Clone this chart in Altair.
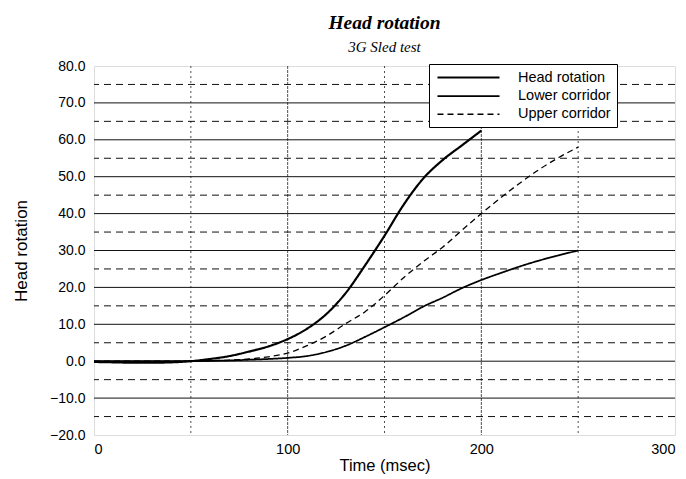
import altair as alt
import pandas as pd

# ---- data ----
t_head = [0, 10, 20, 30, 40, 50, 60, 70, 80, 90, 100, 110, 120, 130, 140, 150,
          160, 170, 180, 190, 200]
head = [-0.2, -0.3, -0.4, -0.4, -0.3, 0.0, 0.6, 1.4, 2.6, 4.0, 6.0, 8.8, 12.8,
        18.5, 26.0, 34.0, 42.5, 49.5, 54.5, 58.5, 62.5]

t_corr = [0, 10, 20, 30, 40, 50, 60, 70, 80, 90, 100, 110, 120, 130, 140, 150,
          160, 170, 180, 190, 200, 210, 220, 230, 240, 250]
lower = [0, 0, 0, 0, 0, 0, 0.1, 0.2, 0.4, 0.6, 0.9, 1.4, 2.5, 4.2, 6.6, 9.2,
         11.9, 14.8, 17.2, 19.8, 22.0, 23.9, 25.7, 27.3, 28.7, 30.0]
upper = [0, 0, 0, 0, 0, 0, 0.1, 0.3, 0.6, 1.2, 2.2, 4.2, 6.8, 10.2, 13.4, 17.8,
         22.7, 27.0, 30.9, 35.5, 40.0, 44.3, 48.3, 52.0, 55.2, 58.0]

series_names = ["Head rotation", "Lower corridor", "Upper corridor"]

x_ticks = [0, 100, 200, 300]
y_ticks = [-20, -10, 0, 10, 20, 30, 40, 50, 60, 70, 80]
vgrid_solid = [100, 200]
vgrid_dot = [50, 150, 250]
hgrid_solid = [-10, 0, 10, 20, 30, 40, 50, 60, 70]
hgrid_dash = [-15, -5, 5, 15, 25, 35, 45, 55, 65, 75]

rows = []
for t, v in zip(t_head, head):
    rows.append({"t": t, "v": v, "series": series_names[0]})
for t, v in zip(t_corr, lower):
    rows.append({"t": t, "v": v, "series": series_names[1]})
for t, v in zip(t_corr, upper):
    rows.append({"t": t, "v": v, "series": series_names[2]})
df = pd.DataFrame(rows)

xscale = alt.Scale(domain=[0, 300], nice=False)
yscale = alt.Scale(domain=[-20, 80], nice=False)

FONT = "Liberation Sans"

x_axis = alt.Axis(values=x_ticks, title="Time (msec)", grid=False,
                  ticks=False, domain=False, labelFont=FONT,
                  labelFontSize=14.5, labelColor="black",
                  labelPadding=7, labelOverlap=False,
                  titleFont=FONT, titleFontSize=16.5,
                  titleFontWeight="normal", titleColor="black",
                  titlePadding=2)
y_axis = alt.Axis(values=y_ticks, format=".1f", title="Head rotation",
                  grid=False, ticks=False, domain=False,
                  labelFont=FONT, labelFontSize=14,
                  labelColor="black", labelPadding=9,
                  labelOverlap=False,
                  titleFont=FONT, titleFontSize=17,
                  titleFontWeight="normal", titleColor="black",
                  titlePadding=19)

vs = alt.Chart(pd.DataFrame({"t": vgrid_solid})).mark_rule(
    color="#222", strokeWidth=0.8, strokeDash=[3, 1]
).encode(x=alt.X("t:Q", scale=xscale, axis=x_axis))
vd = alt.Chart(pd.DataFrame({"t": vgrid_dot})).mark_rule(
    color="#222", strokeWidth=0.8, strokeDash=[2, 3]
).encode(x=alt.X("t:Q", scale=xscale, axis=x_axis))
hs = alt.Chart(pd.DataFrame({"v": hgrid_solid})).mark_rule(
    color="#111", strokeWidth=1
).encode(y=alt.Y("v:Q", scale=yscale, axis=y_axis))
hd = alt.Chart(pd.DataFrame({"v": hgrid_dash})).mark_rule(
    color="#111", strokeWidth=1, strokeDash=[7, 5]
).encode(y=alt.Y("v:Q", scale=yscale, axis=y_axis))

legend = alt.Legend(
    title=None,
    orient="none",
    legendX=335,
    legendY=-2,
    fillColor="white",
    strokeColor="black",
    padding=6,
    symbolType="M-5,0H5",
    symbolSize=154,
    symbolStrokeColor="black",
    symbolOffset=26,
    labelOffset=42,
    labelFont=FONT,
    labelFontSize=14.5,
    labelColor="black",
    rowPadding=3.5,
)

lines = alt.Chart(df).mark_line(interpolate="monotone").encode(
    x=alt.X("t:Q", scale=xscale, axis=x_axis),
    y=alt.Y("v:Q", scale=yscale, axis=y_axis),
    color=alt.Color("series:N", scale=alt.Scale(domain=series_names,
                    range=["black", "black", "black"]), legend=legend),
    strokeDash=alt.StrokeDash("series:N", scale=alt.Scale(domain=series_names,
                              range=[[1, 0], [1, 0], [6, 4]]), legend=legend),
    strokeWidth=alt.StrokeWidth("series:N", scale=alt.Scale(domain=series_names,
                                range=[2.2, 1.3, 1.3]), legend=legend),
    order=alt.Order("t:Q"),
)

chart = alt.layer(vs, vd, hs, hd, lines).properties(
    width=581,
    height=369,
    autosize=alt.AutoSizeParams(type="none"),
    padding={"left": 86, "top": 58, "right": 3, "bottom": 40},
    title=alt.TitleParams(
        "Head rotation",
        subtitle="3G Sled test",
        font="Liberation Serif",
        fontSize=19.5,
        fontStyle="italic",
        fontWeight="bold",
        color="black",
        subtitleFont="Liberation Serif",
        subtitleFontSize=15,
        subtitleFontStyle="italic",
        subtitleColor="black",
        subtitlePadding=7,
        anchor="middle",
        offset=3,
    ),
).configure_view(stroke="black", strokeWidth=1.6).configure_legend(
    strokeWidth=1.2
).configure(background="white")

chart.save("out.html", embed_options={"renderer": "svg", "actions": False})
